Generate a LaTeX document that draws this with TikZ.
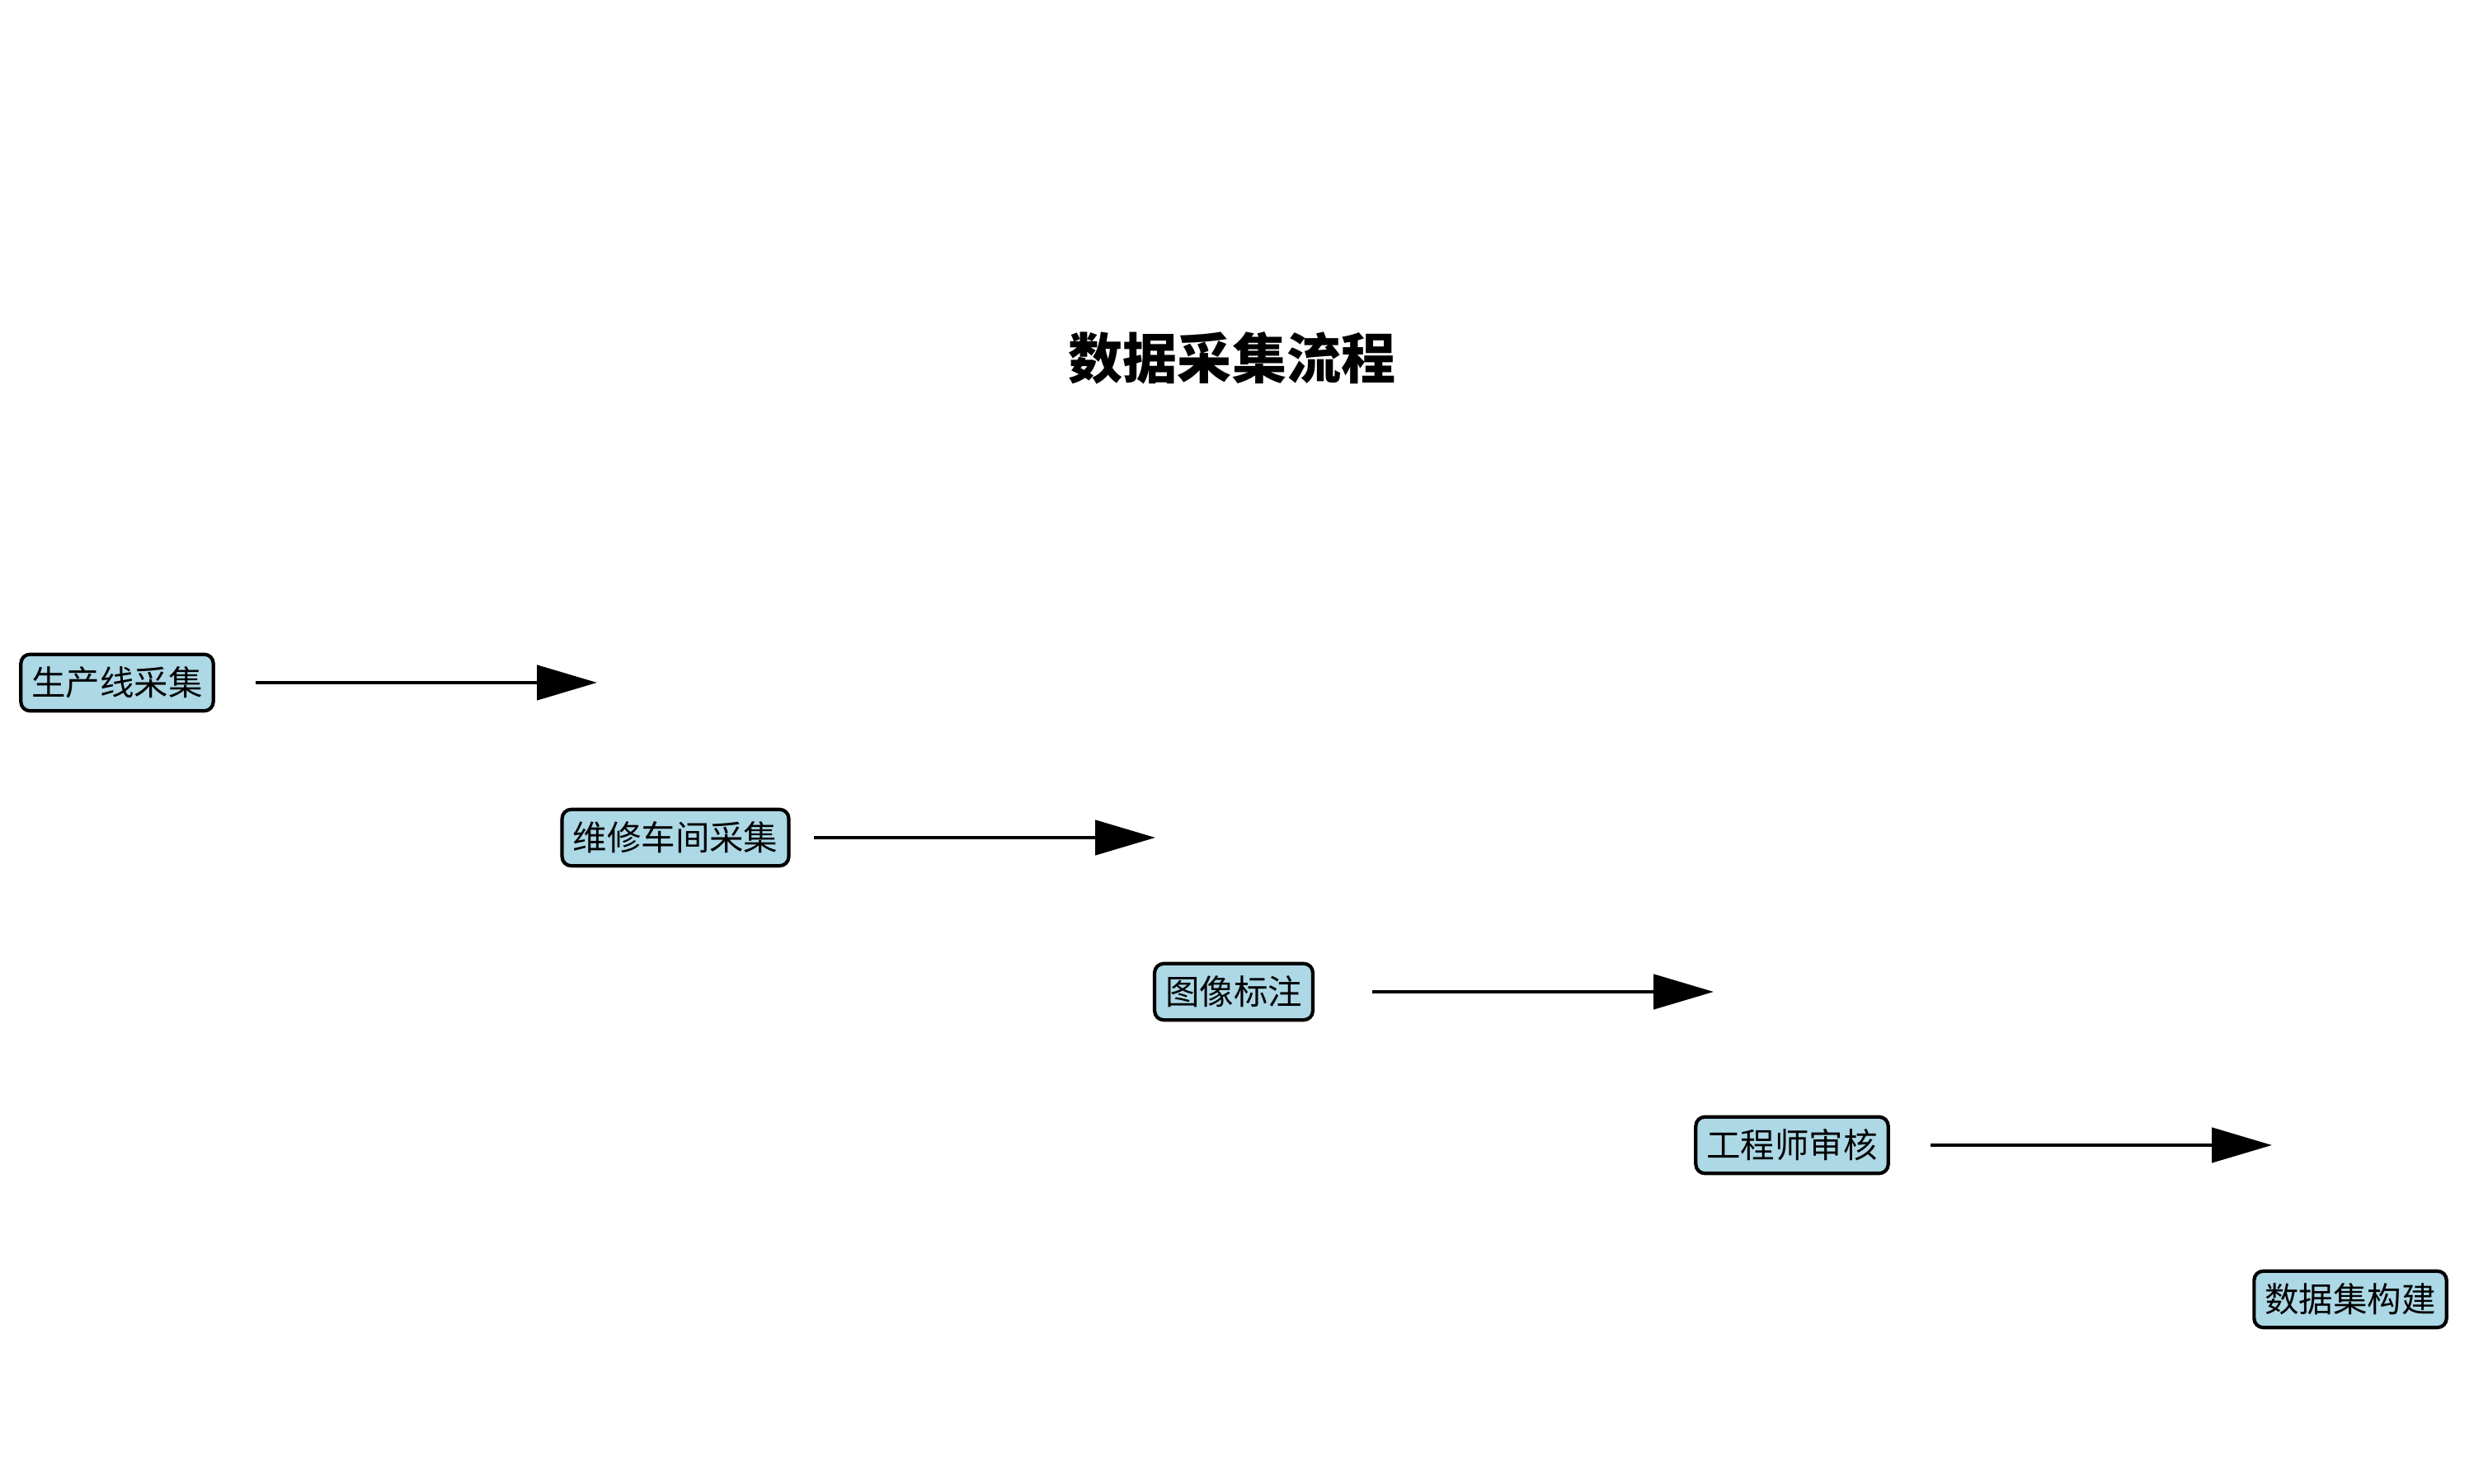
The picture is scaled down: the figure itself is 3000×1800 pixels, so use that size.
\documentclass[tikz,border=0pt]{standalone}
\usepackage{fontspec}
\setmainfont{Noto Sans CJK SC}
\usepackage{tikz}
\usetikzlibrary{arrows.meta}

\begin{document}
\begin{tikzpicture}[
  x=0.1mm, y=0.1mm,
  stage/.style = {draw=black, line width=1.2pt, fill={rgb,255:red,173;green,216;blue,230},
                  rounded corners=1.1mm, inner xsep=1.3mm, inner ysep=1.5mm,
                  font=\fontsize{11.8}{13}\selectfont},
  ar/.style    = {-{Triangle[length=7.3mm,width=4.2mm]}, line width=1.3pt},
  ttl/.style   = {font=\fontsize{18.8}{22}\selectfont\bfseries},
]
  \useasboundingbox (0,0) rectangle (3000,1800);

  % ---- title ------------------------------------------------
  \node[ttl] (title) at (1494, 1366) {数据采集流程};

  % ---- stages -----------------------------------------------
  \node[stage] (s1) at ( 142, 972) {生产线采集};
  \node[stage] (s2) at ( 819, 784) {维修车间采集};
  \node[stage] (s3) at (1496, 597) {图像标注};
  \node[stage] (s4) at (2173, 411) {工程师审核};
  \node[stage] (s5) at (2850, 224) {数据集构建};

  % ---- arrows -----------------------------------------------
  \foreach \s in {1,2,3,4} {
    \coordinate (a\s) at ([xshift=16.8mm]s\s.center);
    \coordinate (b\s) at ([xshift=58.2mm]s\s.center);
    \draw[ar] (a\s) -- (b\s);
  }

\end{tikzpicture}
\end{document}
